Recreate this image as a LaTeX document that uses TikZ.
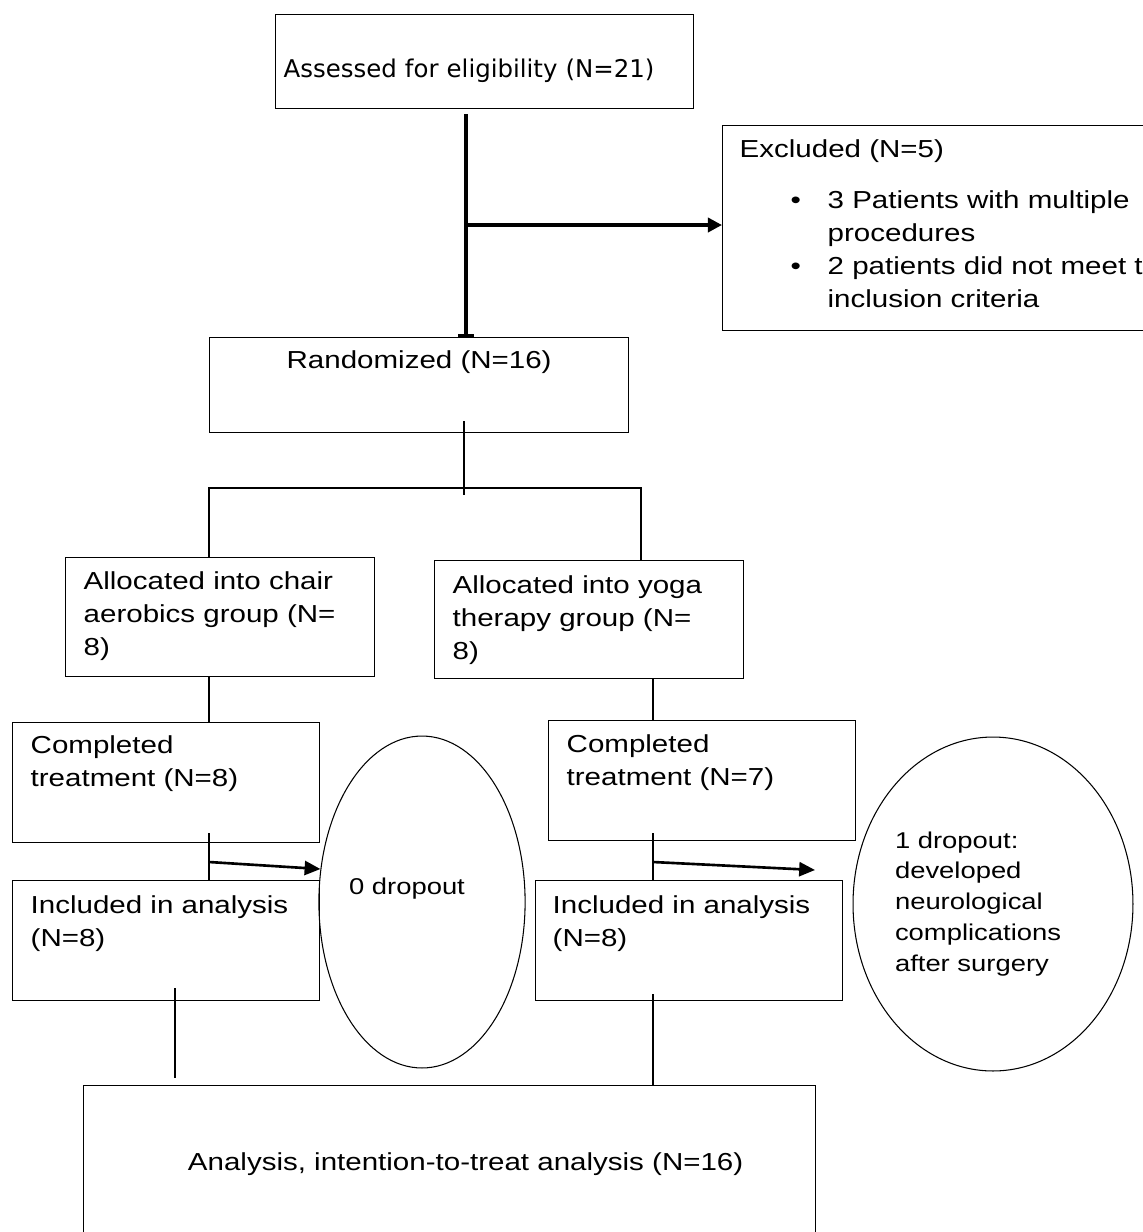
\documentclass[tikz,border=0pt]{standalone}
\usepackage{fontspec}
\setmainfont[FakeStretch=1.2]{Liberation Sans}
\newfontfamily\assessfont{DejaVu Sans}
\usetikzlibrary{arrows.meta,positioning,shapes.geometric,calc}

\tikzset{
  box/.style={draw, line width=0.8pt, anchor=north west, inner ysep=0pt, align=left},
  oval/.style={draw, ellipse, line width=0.6pt, inner sep=0pt},
  link/.style={line width=0.6pt},
  bold/.style={line width=1.9pt},
  droparrow/.style={line width=1.5pt, -{Triangle[length=9pt,width=8pt]}}
}

\begin{document}
\begin{tikzpicture}[x=0.02cm, y=-0.02cm, font=\fontsize{14}{18.8}\selectfont]
\useasboundingbox (0,0) rectangle (1143,1232);

% screening
\node[box, inner xsep=0.16cm, text width=8.04cm, text height=1.26cm, text depth=0.62cm,
  font=\assessfont\fontsize{13.9}{18.8}\selectfont] (assess) at (275,14)
  {Assessed for eligibility (N=21)};
\node[box, inner xsep=0.34cm, text width=9cm, text height=0.64cm, text depth=3.46cm] (excl) at (722,125)
  {Excluded (N=5)\\[10pt]
   \hspace*{1.02cm}\makebox[0.74cm][l]{\textbullet}3 Patients with multiple\\
   \hspace*{1.76cm}procedures\\
   \hspace*{1.02cm}\makebox[0.74cm][l]{\textbullet}2 patients did not meet the\\
   \hspace*{1.76cm}inclusion criteria};
\node[box, align=center, inner xsep=0.2cm, text width=7.98cm, text height=0.62cm, text depth=1.28cm] (rand) at (209,337)
  {Randomized (N=16)};

% allocation
\node[box, inner xsep=0.36cm, text width=5.46cm, text height=0.64cm, text depth=1.74cm] (chair) at (65,557)
  {Allocated into chair\\aerobics group (N=\\8)};
\node[box, inner xsep=0.36cm, text width=5.46cm, text height=0.66cm, text depth=1.7cm] (yoga) at (434,560)
  {Allocated into yoga\\therapy group (N=\\8)};

% follow-up
\node[box, inner xsep=0.36cm, text width=5.42cm, text height=0.62cm, text depth=1.78cm] (comp1) at (12,722)
  {Completed\\treatment (N=8)};
\node[box, inner xsep=0.36cm, text width=5.42cm, text height=0.64cm, text depth=1.76cm] (comp2) at (548,720)
  {Completed\\treatment (N=7)};
\node[box, inner xsep=0.36cm, text width=5.42cm, text height=0.66cm, text depth=1.74cm] (incl1) at (12,880)
  {Included in analysis\\(N=8)};
\node[box, inner xsep=0.34cm, text width=5.46cm, text height=0.66cm, text depth=1.74cm] (incl2) at (535,880)
  {Included in analysis\\(N=8)};
\node[oval, minimum width=4.08cm, minimum height=6.64cm, text height=0.3cm, text depth=0.62cm,
  font=\fontsize{13}{17.6}\selectfont] (drop1) at (422,902) {0 dropout\hspace*{0.6cm}};
\node[oval, minimum width=5.6cm, minimum height=6.68cm, align=left, text width=3.92cm,
  font=\fontsize{13}{17.6}\selectfont] (drop2) at (993,904)
  {1 dropout:\\developed\\neurological\\complications\\after surgery};

% analysis
\node[box, align=center, inner xsep=0.2cm, text width=14.24cm, text height=1.7cm, text depth=1.5cm] (itt) at (83,1085)
  {\hspace*{0.64cm}Analysis, intention-to-treat analysis (N=16)};

\coordinate (split) at (466,225);
\coordinate (fork) at (464,488);
\coordinate (lbr) at (209,488);
\coordinate (rbr) at (641,488);
\coordinate (lcol) at (209,862);
\coordinate (rcol) at (653,862);
\coordinate (rtip) at (815,870);
\coordinate (lfoot) at (175,1078);

\draw[bold, -{Bar[width=9pt]}] ($(split |- assess.south)+(0,5)$) -- (split |- rand.north);
\draw[bold, -{Triangle[length=8pt,width=8pt]}] (split) -- (split -| excl.west);
\draw[link] ($(fork |- rand.south)+(0,-12)$) -- ($(fork)+(0,7)$);
\draw[link] (lbr |- chair.north) -- (lbr) -- (rbr) -- (rbr |- yoga.north);
\draw[link] (lbr |- chair.south) -- (lbr |- comp1.north);
\draw[link] (rcol |- yoga.south) -- (rcol |- comp2.north);
\draw[link] ($(lcol |- comp1.south)+(0,-10)$) -- (lcol |- incl1.north);
\draw[link] ($(rcol |- comp2.south)+(0,-8)$) -- (rcol |- incl2.north);
\draw[droparrow] (lcol) -- (drop1.162);
\draw[droparrow] (rcol) -- (rtip);
\draw[link] ($(lfoot |- incl1.south)+(0,-13)$) -- (lfoot);
\draw[link] ($(rcol |- incl2.south)+(0,-7)$) -- (rcol |- itt.north);
\end{tikzpicture}
\end{document}
